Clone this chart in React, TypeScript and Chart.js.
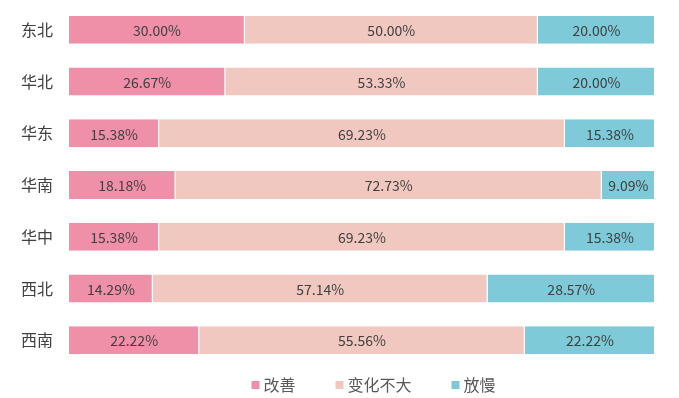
import React, { useEffect, useRef } from "react";
import { Chart, registerables } from "chart.js";

Chart.register(...registerables);

const categories = ["东北", "华北", "华东", "华南", "华中", "西北", "西南"];
const seriesNames = ["改善", "变化不大", "放慢"];
const improved = [30.0, 26.67, 15.38, 18.18, 15.38, 14.29, 22.22];
const unchanged = [50.0, 53.33, 69.23, 72.73, 69.23, 57.14, 55.56];
const slowed = [20.0, 20.0, 15.38, 9.09, 15.38, 28.57, 22.22];
const colors = ["#EF8FA8", "#F0C8C0", "#7ECAD8"];

const FONT = "'Noto Sans CJK SC', 'Noto Sans', sans-serif";

const labelPlugin = {
  id: "barLabels",
  afterDatasetsDraw(chart: any) {
    const ctx = chart.ctx;
    ctx.save();
    ctx.font = `14px ${FONT}`;
    ctx.fillStyle = "#404040";
    ctx.textAlign = "center";
    ctx.textBaseline = "middle";
    chart.data.datasets.forEach((ds: any, di: number) => {
      const meta = chart.getDatasetMeta(di);
      meta.data.forEach((bar: any, i: number) => {
        const v = ds.data[i];
        const cx = (bar.x + bar.base) / 2;
        ctx.fillText(v.toFixed(2) + "%", cx, bar.y + 1);
      });
    });
    ctx.restore();
  },
};

const legendPlugin = {
  id: "customLegend",
  afterDraw(chart: any) {
    const ctx = chart.ctx;
    ctx.save();
    ctx.font = `16px ${FONT}`;
    ctx.textBaseline = "middle";
    ctx.textAlign = "left";
    const box = 8;
    const gapBoxText = 4;
    const gapItems = 40;
    const items = chart.data.datasets.map((ds: any) => ({
      label: ds.label,
      color: ds.backgroundColor,
      w: box + gapBoxText + ctx.measureText(ds.label).width,
    }));
    const total = items.reduce((s: number, it: any) => s + it.w, 0) + gapItems * (items.length - 1);
    let x = 373.5 - total / 2;
    const y = 385;
    items.forEach((it: any) => {
      ctx.fillStyle = it.color;
      ctx.fillRect(x, y - box / 2, box, box);
      ctx.fillStyle = "#595959";
      ctx.fillText(it.label, x + box + gapBoxText, y);
      x += it.w + gapItems;
    });
    ctx.restore();
  },
};

export default function App() {
  const ref = useRef<HTMLCanvasElement>(null);
  useEffect(() => {
    const data = [improved, unchanged, slowed];
    const chart = new Chart(ref.current!, {
      type: "bar",
      data: {
        labels: categories,
        datasets: seriesNames.map((n, i) => ({
          label: n,
          data: data[i],
          backgroundColor: colors[i],
          borderColor: "#ffffff",
          borderWidth: { top: 0, bottom: 0, left: 0, right: 1 },
          borderSkipped: false,
          categoryPercentage: 1,
          barPercentage: 0.54,
        })),
      },
      options: {
        indexAxis: "y",
        animation: false,
        responsive: false,
        layout: { padding: { top: 4, right: 24, left: 0, bottom: 32 } },
        scales: {
          x: { stacked: true, min: 0, max: 100, display: false },
          y: {
            stacked: true,
            grid: { display: false, drawTicks: false },
            border: { display: false },
            ticks: { font: { size: 16, family: FONT }, color: "#404040", padding: 16 },
            afterFit(scale: any) {
              scale.width = 69;
              scale.paddingTop = 0;
              scale.paddingBottom = 0;
            },
          },
        },
        plugins: {
          tooltip: { enabled: false },
          legend: { display: false },
        },
      },
      plugins: [labelPlugin, legendPlugin],
    });
    return () => chart.destroy();
  }, []);
  return (
    <div style={{ position: "fixed", left: 0, top: 0, width: 679, height: 398, background: "#fff" }}>
      <canvas ref={ref} width={679} height={398} />
    </div>
  );
}
